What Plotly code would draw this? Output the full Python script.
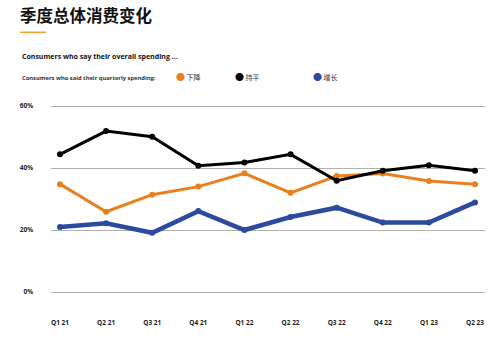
import plotly.graph_objects as go

quarters = ["Q1 21", "Q2 21", "Q3 21", "Q4 21", "Q1 22", "Q2 22", "Q3 22", "Q4 22", "Q1 23", "Q2 23"]
decrease = [34.8, 25.9, 31.4, 34.0, 38.3, 32.0, 37.4, 38.2, 35.8, 34.8]
flat = [44.4, 51.9, 50.1, 40.7, 41.8, 44.4, 35.9, 39.1, 40.9, 39.1]
increase = [21.0, 22.2, 19.1, 26.1, 20.0, 24.2, 27.2, 22.4, 22.4, 28.9]
y_ticks = [0, 20, 40, 60]
y_tick_text = ["0%", "20%", "40%", "60%"]

series = [
    ("下降", decrease, "#E8801F", 3, "legend"),
    ("持平", flat, "#000000", 3, "legend2"),
    ("增长", increase, "#2C4A9E", 4.5, "legend3"),
]

W, H = 500, 339
L, R, T, B = 51, 15, 100, 39
pw, ph = W - L - R, H - T - B

def px(x):
    return (x - L) / pw

def py(y):
    return (H - B - y) / ph

fig = go.Figure()
for name, vals, color, lw, lg in series:
    fig.add_trace(go.Scatter(
        x=quarters, y=vals, mode="lines+markers", name=name,
        line=dict(color=color, width=lw), marker=dict(color=color, size=6),
        showlegend=False, hoverinfo="skip"))
    fig.add_trace(go.Scatter(
        x=[None], y=[None], mode="markers",
        name=f'<span style="color:{color};font-size:9px">●</span> {name}',
        marker=dict(color="rgba(0,0,0,0)", size=0.1, line=dict(width=0, color="rgba(0,0,0,0)")),
        legend=lg, showlegend=True))

font_cjk = "Noto Sans CJK SC, Open Sans, sans-serif"
leg_common = dict(orientation="h", xref="container", yref="container",
                  yanchor="middle", xanchor="left", y=1 - 77.7 / H,
                  bgcolor="rgba(0,0,0,0)", borderwidth=0,
                  font=dict(family=font_cjk, size=7, color="#333333"),
                  itemwidth=30)
lx = [176, 235, 313]
fig.update_layout(
    width=W, height=H,
    margin=dict(l=L, r=R, t=T, b=B, autoexpand=False),
    paper_bgcolor="white", plot_bgcolor="white",
    title=dict(text="<b>季度总体消费变化</b>", xref="container", yref="container",
               x=20 / W, y=1 - 16.5 / H, xanchor="left", yanchor="middle",
               font=dict(family=font_cjk, size=16.5, color="#111111")),
    legend=dict(leg_common, x=(lx[0] - 40) / W),
    legend2=dict(leg_common, x=(lx[1] - 40) / W),
    legend3=dict(leg_common, x=(lx[2] - 40) / W),
    xaxis=dict(type="category", range=[-0.195, 9.217], showgrid=False,
               showline=False, zeroline=False, ticks="",
               ticklabelstandoff=17,
               tickfont=dict(family="Open Sans, sans-serif", size=6.5, color="#222222", weight="bold")),
    yaxis=dict(range=[-2.58, 61.94], tickvals=y_ticks, ticktext=y_tick_text,
               showgrid=True, gridcolor="#B0B0B0", gridwidth=1.3,
               zeroline=False, showline=False, ticks="",
               ticklabelstandoff=17,
               tickfont=dict(family="Open Sans, sans-serif", size=6.5, color="#222222", weight="bold")),
    showlegend=True,
    shapes=[dict(type="line", xref="paper", yref="paper",
                 x0=px(20), x1=px(46), y0=py(32.3), y1=py(32.3),
                 line=dict(color="#F0A030", width=1.5))],
    annotations=[
        dict(text="<b>Consumers who say their overall spending ...</b>", xref="paper", yref="paper",
             x=px(20), y=py(57), xanchor="left", yanchor="middle", showarrow=False,
             font=dict(family="Open Sans, sans-serif", size=7, color="#111111")),
        dict(text="<b>Consumers who said their quarterly spending:</b>", xref="paper", yref="paper",
             x=px(20), y=py(77.7), xanchor="left", yanchor="middle", showarrow=False,
             font=dict(family="Open Sans, sans-serif", size=5.8, color="#333333")),
    ],
)
fig.write_html("out.html")
